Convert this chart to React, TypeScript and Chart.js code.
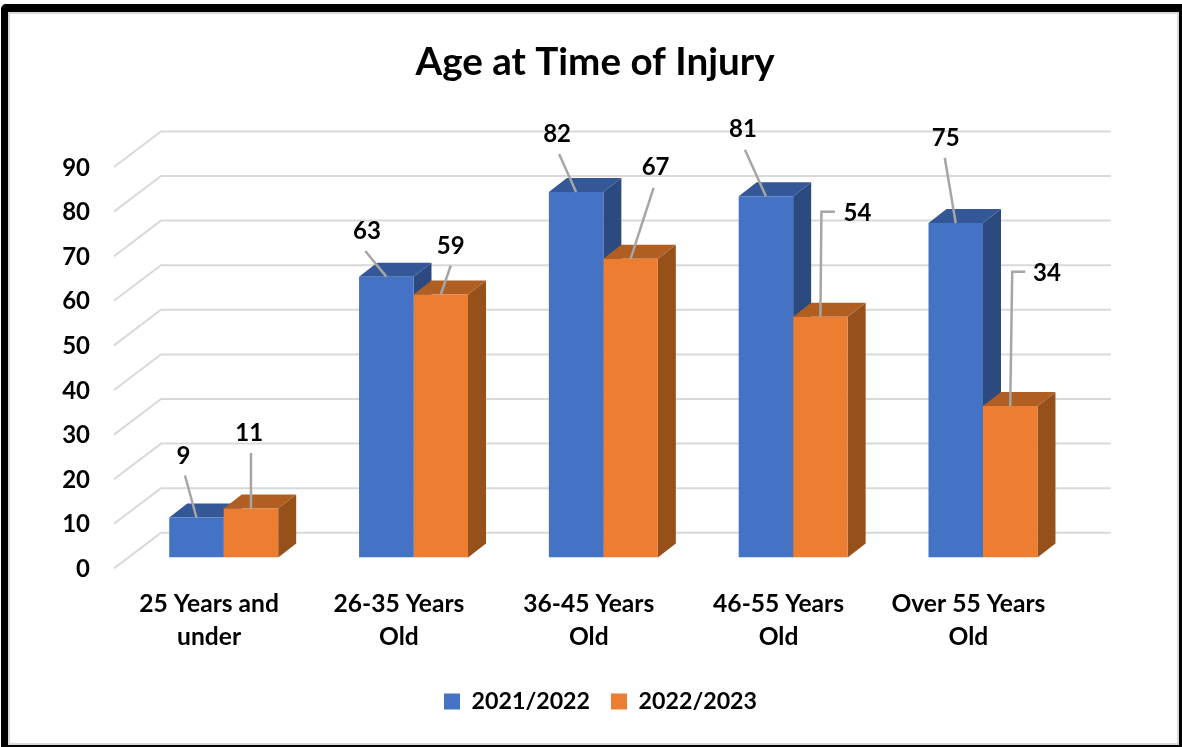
import React, { useEffect, useRef } from "react";
import { Chart, registerables } from "chart.js";

Chart.register(...registerables);

const categories = [
  ["25 Years and", "under"],
  ["26-35 Years", "Old"],
  ["36-45 Years", "Old"],
  ["46-55 Years", "Old"],
  ["Over 55 Years", "Old"],
];
const series2122 = [9, 63, 82, 81, 75];
const series2223 = [11, 59, 67, 54, 34];
const tickMax = 90;
const tickStep = 10;

// Leader geometry per bar, relative to the centre of the bar's top edge:
// label centre, leader start, optional elbow.
type Leader = { label: [number, number]; start: [number, number]; elbow?: [number, number] };
const leaders2122: Leader[] = [
  { label: [-13, -62], start: [-11.5, -42] },
  { label: [-19.4, -45.6], start: [-21, -25.6] },
  { label: [-19, -58], start: [-17, -38] },
  { label: [-23, -67.5], start: [-21, -46.7] },
  { label: [-10, -85.7], start: [-11, -65.3] },
];
const leaders2223: Leader[] = [
  { label: [-1.7, -75.8], start: [0, -55.5] },
  { label: [10, -49], start: [10, -29] },
  { label: [25, -91.8], start: [23, -71] },
  { label: [37, -103.8], start: [14.5, -105], elbow: [1, -105] },
  { label: [36.7, -133.3], start: [15, -134.3], elbow: [2, -134.3] },
];

const FONT = "Lato";
const BLUE = { front: "#4472C4", side: "#2C4A80", top: "#335797" };
const ORANGE = { front: "#ED7D31", side: "#96511B", top: "#B15E23" };
const faces = [BLUE, ORANGE];
const leaders = [leaders2122, leaders2223];

const DEPTH_X = 18;
const DEPTH_Y = 14;
const CANVAS_W = 1182;
const CANVAS_H = 747;
const PLOT_LEFT = 128.8;
const PLOT_RIGHT = 1077.9;
const PLOT_BOTTOM = 557.6;
const PAD_LEFT = 8;
const PAD_BOTTOM = 24;

// Floor and wall gridlines, drawn with the value axis as the source of each height.
const wallGrid = {
  id: "wallGrid",
  beforeDatasetsDraw(chart: any) {
    const { ctx, chartArea, scales } = chart;
    const y = scales.y;
    ctx.save();
    ctx.strokeStyle = "#D9D9D9";
    ctx.lineWidth = 2;
    for (let v = 0; v <= tickMax; v += tickStep) {
      const p = y.getPixelForValue(v);
      ctx.beginPath();
      ctx.moveTo(chartArea.left - 14.8, p + 10.8);
      ctx.lineTo(chartArea.left + 32.2, p - 24.8);
      ctx.lineTo(chartArea.right + 33, p - 24.8);
      ctx.stroke();
    }
    ctx.restore();
  },
};

// Side and top faces sit behind every front face, so they are painted first.
const barDepth = {
  id: "barDepth",
  beforeDatasetsDraw(chart: any) {
    const { ctx } = chart;
    ctx.save();
    [0, 1].forEach((d) => {
      chart.getDatasetMeta(d).data.forEach((bar: any) => {
        const half = bar.width / 2;
        const l = bar.x - half;
        const r = bar.x + half;
        const t = bar.y;
        const b = bar.base;
        ctx.fillStyle = faces[d].side;
        ctx.beginPath();
        ctx.moveTo(r, t);
        ctx.lineTo(r + DEPTH_X, t - DEPTH_Y);
        ctx.lineTo(r + DEPTH_X, b - DEPTH_Y);
        ctx.lineTo(r, b);
        ctx.closePath();
        ctx.fill();
        ctx.fillStyle = faces[d].top;
        ctx.beginPath();
        ctx.moveTo(l, t);
        ctx.lineTo(l + DEPTH_X, t - DEPTH_Y);
        ctx.lineTo(r + DEPTH_X, t - DEPTH_Y);
        ctx.lineTo(r, t);
        ctx.closePath();
        ctx.fill();
      });
    });
    ctx.restore();
  },
};

// Value labels with their grey leader lines.
const valueLabels = {
  id: "valueLabels",
  afterDatasetsDraw(chart: any) {
    const { ctx } = chart;
    ctx.save();
    ctx.font = `bold 24px ${FONT}`;
    ctx.textAlign = "center";
    ctx.textBaseline = "middle";
    [0, 1].forEach((d) => {
      const values = chart.data.datasets[d].data;
      chart.getDatasetMeta(d).data.forEach((bar: any, i: number) => {
        const leader = leaders[d][i];
        ctx.strokeStyle = "#A6A6A6";
        ctx.lineWidth = 2.5;
        ctx.beginPath();
        ctx.moveTo(bar.x + leader.start[0], bar.y + leader.start[1]);
        if (leader.elbow) ctx.lineTo(bar.x + leader.elbow[0], bar.y + leader.elbow[1]);
        ctx.lineTo(bar.x, bar.y);
        ctx.stroke();
        ctx.fillStyle = "#000000";
        ctx.fillText(String(values[i]), bar.x + leader.label[0], bar.y + leader.label[1] + 0.7);
      });
    });
    ctx.restore();
  },
};

// The legend sits slightly right of the title's centre line.
const legendNudge = {
  id: "legendNudge",
  afterLayout(chart: any) {
    chart.legend.left += 5.5;
    chart.legend.right += 5.5;
  },
};

export default function App() {
  const ref = useRef<HTMLCanvasElement>(null);

  useEffect(() => {
    const chart = new Chart(ref.current as HTMLCanvasElement, {
      type: "bar",
      data: {
        labels: categories,
        datasets: [
          { label: "2021/2022", data: series2122, backgroundColor: BLUE.front, yAxisID: "y" },
          { label: "2022/2023", data: series2223, backgroundColor: ORANGE.front, yAxisID: "y" },
        ],
      },
      plugins: [wallGrid, barDepth, valueLabels, legendNudge],
      options: {
        responsive: false,
        animation: false,
        layout: { padding: { left: PAD_LEFT, right: 0, top: 0, bottom: PAD_BOTTOM } },
        datasets: { bar: { categoryPercentage: 0.574, barPercentage: 1 } },
        scales: {
          x: {
            afterFit(scale: any) {
              scale.height = CANVAS_H - PLOT_BOTTOM - scale.chart.legend.height - PAD_BOTTOM;
            },
            grid: { display: false },
            border: { display: false },
            ticks: {
              autoSkip: false,
              maxRotation: 0,
              minRotation: 0,
              padding: 22,
              labelOffset: -14.6,
              color: "#000000",
              font: { family: FONT, weight: "bold", size: 24.6, lineHeight: 33 / 24.6 },
            },
          },
          y: {
            min: 0,
            max: tickMax,
            afterFit(scale: any) {
              scale.width = PLOT_LEFT - PAD_LEFT;
            },
            grid: { display: false, drawTicks: false },
            border: { display: false },
            ticks: {
              stepSize: tickStep,
              padding: 38.8,
              labelOffset: 11.6,
              color: "#000000",
              font: { family: FONT, weight: "bold", size: 24 },
            },
          },
          // Empty right-hand axis that reserves the margin beside the plot.
          yRight: {
            position: "right",
            min: 0,
            max: tickMax,
            afterFit(scale: any) {
              scale.width = CANVAS_W - PLOT_RIGHT;
            },
            grid: { display: false },
            border: { display: false },
            ticks: { display: false },
          },
        },
        plugins: {
          title: {
            display: true,
            text: "Age at Time of Injury",
            color: "#000000",
            font: { family: FONT, weight: "bold", size: 38.6, lineHeight: 1.2 },
            padding: { top: 39, bottom: 70.9 },
          },
          legend: {
            position: "bottom",
            labels: {
              boxWidth: 16,
              boxHeight: 16,
              padding: 21,
              color: "#000000",
              font: { family: FONT, weight: "bold", size: 23.2 },
            },
          },
          tooltip: { enabled: false },
        },
      },
    } as any);
    return () => chart.destroy();
  }, []);

  return (
    <div style={{ position: "fixed", left: 0, top: 0, width: CANVAS_W, height: CANVAS_H, background: "#fff", overflow: "hidden" }}>
      <canvas ref={ref} width={CANVAS_W} height={CANVAS_H} style={{ display: "block" }} />
      <div
        style={{
          position: "absolute",
          left: 1,
          top: 4,
          right: 0,
          bottom: 0,
          boxSizing: "border-box",
          borderStyle: "solid",
          borderColor: "#000",
          borderWidth: "8px 3px 2px 7.5px",
          borderRadius: "5px 0 0 0",
          boxShadow: "inset 0 0 0 2px #D9D9D9",
          pointerEvents: "none",
        }}
      />
    </div>
  );
}
